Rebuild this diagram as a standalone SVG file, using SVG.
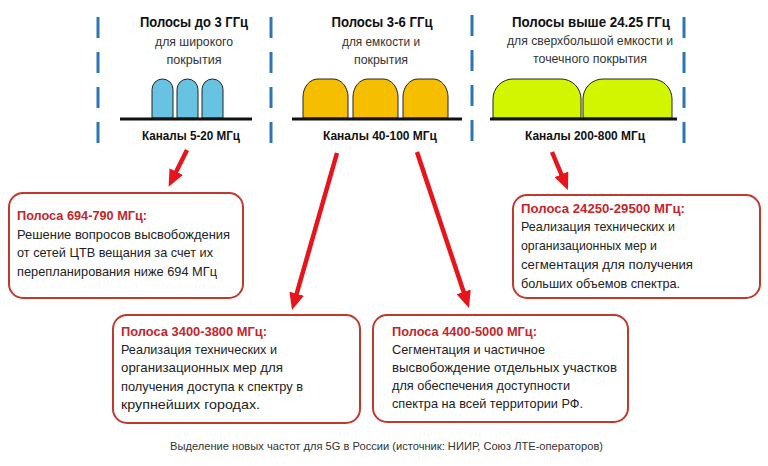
<svg xmlns="http://www.w3.org/2000/svg" width="768" height="466" viewBox="0 0 768 466">
<style>
.dash{stroke:#2e75b6;stroke-width:3;stroke-dasharray:21 14;fill:none}
.base{stroke:#111;stroke-width:3}
.bump{stroke:#222;stroke-width:1}
.t{font-family:"Liberation Sans",Arial,sans-serif;font-weight:bold;font-size:15.5px;fill:#111;text-anchor:middle}
.s{font-family:"Liberation Sans",Arial,sans-serif;font-size:12.5px;fill:#333;text-anchor:middle}
.k{font-family:"Liberation Sans",Arial,sans-serif;font-weight:bold;font-size:13px;fill:#111;text-anchor:middle}
.box{fill:#fff;stroke:#c0392f;stroke-width:2}
.bh{font-family:"Liberation Sans",Arial,sans-serif;font-weight:bold;font-size:12.5px;fill:#c3262c}
.bt{font-family:"Liberation Sans",Arial,sans-serif;font-size:13px;fill:#222}
.arr{stroke:#e8141b;stroke-width:4.5;fill:none}
.cap{font-family:"Liberation Sans",Arial,sans-serif;font-size:11px;fill:#333}
</style>
<defs>
<marker id="ah" markerUnits="userSpaceOnUse" markerWidth="17" markerHeight="15" viewBox="0 0 17 15" refX="5" refY="7.5" orient="auto">
<path d="M0,0 L17,7.5 L0,15 Z" fill="#e8141b"/>
</marker>
</defs>
<rect width="768" height="466" fill="#fff"/>

<g id="dividers">
<line class="dash" x1="98" y1="17" x2="98" y2="145"/>
<line class="dash" x1="271" y1="17" x2="271" y2="145"/>
<line class="dash" x1="472" y1="15" x2="472" y2="145"/>
<line class="dash" x1="684" y1="17" x2="684" y2="145"/>
</g>

<g id="band-low">
<text class="t" x="194" y="27" textLength="108" lengthAdjust="spacingAndGlyphs">Полосы до 3 ГГц</text>
<text class="s" x="194" y="46" textLength="78" lengthAdjust="spacingAndGlyphs">для широкого</text>
<text class="s" x="194" y="64" textLength="55" lengthAdjust="spacingAndGlyphs">покрытия</text>
<path class="bump" fill="#68c3e3" d="M152,118 V89.5 A10.5,10.5 0 0 1 173,89.5 V118 Z"/>
<path class="bump" fill="#68c3e3" d="M177,118 V89.5 A10.5,10.5 0 0 1 198,89.5 V118 Z"/>
<path class="bump" fill="#68c3e3" d="M202,118 V89.5 A10.5,10.5 0 0 1 223,89.5 V118 Z"/>
<line class="base" x1="120" y1="119" x2="252" y2="119"/>
<text class="k" x="191" y="140" textLength="98" lengthAdjust="spacingAndGlyphs">Каналы 5-20 МГц</text>
</g>

<g id="band-mid">
<text class="t" x="382" y="27" textLength="101" lengthAdjust="spacingAndGlyphs">Полосы 3-6 ГГц</text>
<text class="s" x="381" y="46" textLength="78" lengthAdjust="spacingAndGlyphs">для емкости и</text>
<text class="s" x="381" y="64" textLength="54" lengthAdjust="spacingAndGlyphs">покрытия</text>
<path class="bump" fill="#f5bf00" d="M303,118 V97 A15,18 0 0 1 318,79 H333 A15,18 0 0 1 348,97 V118 Z"/>
<path class="bump" fill="#f5bf00" d="M353,118 V97 A15,18 0 0 1 368,79 H383 A15,18 0 0 1 398,97 V118 Z"/>
<path class="bump" fill="#f5bf00" d="M403,118 V97 A15,18 0 0 1 418,79 H433 A15,18 0 0 1 448,97 V118 Z"/>
<line class="base" x1="292" y1="119" x2="462" y2="119"/>
<text class="k" x="380" y="140" textLength="114" lengthAdjust="spacingAndGlyphs">Каналы 40-100 МГц</text>
</g>

<g id="band-high">
<text class="t" x="591" y="27" textLength="158" lengthAdjust="spacingAndGlyphs">Полосы выше 24.25 ГГц</text>
<text class="s" x="590" y="45" textLength="166" lengthAdjust="spacingAndGlyphs">для сверхбольшой емкости и</text>
<text class="s" x="590" y="63" textLength="114" lengthAdjust="spacingAndGlyphs">точечного покрытия</text>
<path class="bump" fill="#d2f500" d="M493,118 V99 A20,20 0 0 1 513,79 H561 A20,20 0 0 1 581,99 V118 Z"/>
<path class="bump" fill="#d2f500" d="M583,118 V99 A20,20 0 0 1 603,79 H652 A20,20 0 0 1 672,99 V118 Z"/>
<line class="base" x1="490" y1="119" x2="677" y2="119"/>
<text class="k" x="585" y="140" textLength="120" lengthAdjust="spacingAndGlyphs">Каналы 200-800 МГц</text>
</g>

<g id="connectors">
<line class="arr" x1="187" y1="150" x2="174" y2="176" marker-end="url(#ah)"/>
<line class="arr" x1="337" y1="153" x2="295.3" y2="298.5" marker-end="url(#ah)"/>
<line class="arr" x1="417" y1="152" x2="465.2" y2="296.6" marker-end="url(#ah)"/>
<line class="arr" x1="552" y1="152" x2="563.3" y2="179" marker-end="url(#ah)"/>
</g>

<g id="box-694">
<rect class="box" x="9" y="193" width="234" height="105" rx="14"/>
<text class="bh" x="17" y="220" textLength="130" lengthAdjust="spacingAndGlyphs">Полоса 694-790 МГц:</text>
<text class="bt" x="17" y="239" textLength="213" lengthAdjust="spacingAndGlyphs">Решение вопросов высвобождения</text>
<text class="bt" x="17" y="257" textLength="196" lengthAdjust="spacingAndGlyphs">от сетей ЦТВ вещания за счет их</text>
<text class="bt" x="17" y="276" textLength="200" lengthAdjust="spacingAndGlyphs">перепланирования ниже 694 МГц</text>
</g>

<g id="box-24250">
<rect class="box" x="513" y="195" width="247" height="103" rx="14"/>
<text class="bh" x="521" y="213" textLength="164" lengthAdjust="spacingAndGlyphs">Полоса 24250-29500 МГц:</text>
<text class="bt" x="521" y="231" textLength="154" lengthAdjust="spacingAndGlyphs">Реализация технических и</text>
<text class="bt" x="521" y="250" textLength="136" lengthAdjust="spacingAndGlyphs">организационных мер и</text>
<text class="bt" x="521" y="269" textLength="172" lengthAdjust="spacingAndGlyphs">сегментация для получения</text>
<text class="bt" x="521" y="288" textLength="159" lengthAdjust="spacingAndGlyphs">больших объемов спектра.</text>
</g>

<g id="box-3400">
<rect class="box" x="113" y="315" width="247" height="108" rx="14"/>
<text class="bh" x="121" y="336" textLength="146" lengthAdjust="spacingAndGlyphs">Полоса 3400-3800 МГц:</text>
<text class="bt" x="121" y="354" textLength="156" lengthAdjust="spacingAndGlyphs">Реализация технических и</text>
<text class="bt" x="121" y="372" textLength="162" lengthAdjust="spacingAndGlyphs">организационных мер для</text>
<text class="bt" x="121" y="391" textLength="182" lengthAdjust="spacingAndGlyphs">получения доступа к спектру в</text>
<text class="bt" x="121" y="409" textLength="139" lengthAdjust="spacingAndGlyphs">крупнейших городах.</text>
</g>

<g id="box-4400">
<rect class="box" x="373" y="315" width="255" height="107" rx="14"/>
<text class="bh" x="392" y="336" textLength="145" lengthAdjust="spacingAndGlyphs">Полоса 4400-5000 МГц:</text>
<text class="bt" x="392" y="354" textLength="153" lengthAdjust="spacingAndGlyphs">Сегментация и частичное</text>
<text class="bt" x="392" y="372" textLength="225" lengthAdjust="spacingAndGlyphs">высвобождение отдельных участков</text>
<text class="bt" x="392" y="390" textLength="178" lengthAdjust="spacingAndGlyphs">для обеспечения доступности</text>
<text class="bt" x="392" y="408" textLength="191" lengthAdjust="spacingAndGlyphs">спектра на всей территории РФ.</text>
</g>

<text class="cap" x="170" y="450" textLength="433" lengthAdjust="spacingAndGlyphs">Выделение новых частот для 5G в России (источник: НИИР, Союз ЛТЕ-операторов)</text>
</svg>
